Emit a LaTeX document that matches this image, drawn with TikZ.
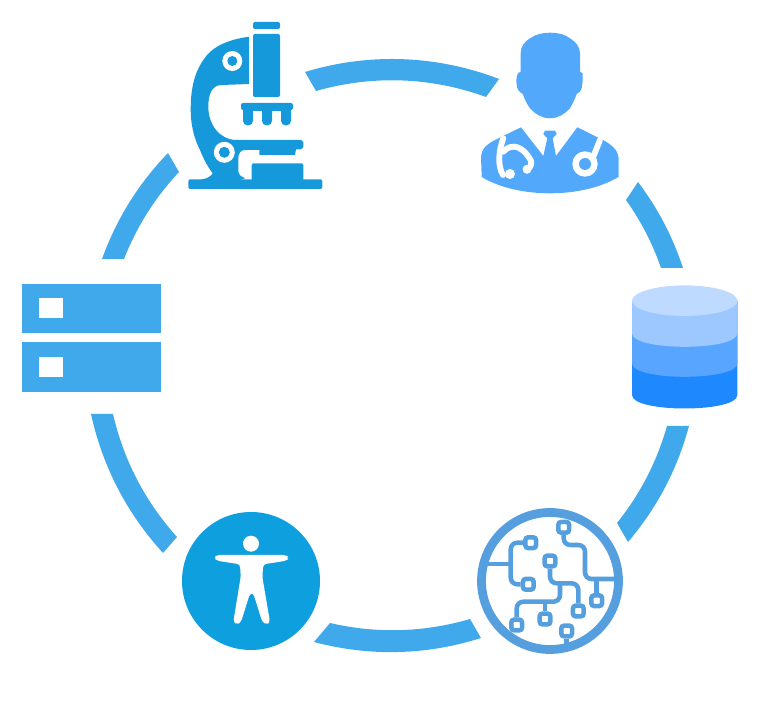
\documentclass[tikz,border=0pt]{standalone}
\usepackage{tikz}
\definecolor{ringblue}{HTML}{40A9EC}
\definecolor{scopeblue}{HTML}{1599DB}
\definecolor{doctorblue}{HTML}{52A9FB}
\definecolor{chipblue}{HTML}{559FDE}
\definecolor{bodyblue}{HTML}{0E9FDF}
\definecolor{layerd}{HTML}{1E88FF}
\definecolor{layerc}{HTML}{57A5FF}
\definecolor{layerb}{HTML}{9CC8FF}
\definecolor{layera}{HTML}{BFDAFF}
\tikzset{
  ringpart/.style={fill=ringblue,looseness=.88},
  scopepart/.style={fill=scopeblue,rounded corners=1.5pt},
  trace/.style={draw=chipblue,line width=3.4pt,rounded corners=5pt},
  pad/.style={draw=chipblue,fill=white,line width=3.4pt,rectangle,rounded corners=2pt,minimum size=8pt,inner sep=0pt},
  tube/.style={draw=white,line width=4.4pt,line cap=round}
}
\begin{document}
\begin{tikzpicture}[x=.75pt,y=-.75pt]
  \useasboundingbox (0,0) rectangle (758,720);

  % ring
  \fill[ringpart] (305,72) to[bend left=19] (499,79) -- (486,97) to[bend right=18] (316,91) -- cycle;
  \fill[ringpart] (638,182) to[bend left=9.3] (683,268) -- (661,268) to[bend right=8] (626,200) -- cycle;
  \fill[ringpart] (689,426) to[bend left=12.6] (628,542) -- (617,523) to[bend right=11.3] (667,426) -- cycle;
  \fill[ringpart] (481,638) to[bend left=16.2] (314,642) -- (330,623) to[bend right=14.6] (470,619) -- cycle;
  \fill[ringpart] (163,553) to[bend left=15] (91,414) -- (113,414) to[bend right=14.4] (177,537) -- cycle;
  \fill[ringpart] (102,259) to[bend left=12] (168,153) -- (179,172) to[bend right=10.7] (124,259) -- cycle;

  % microscope
  \fill[scopepart] (253,22) rectangle (280,29);
  \fill[scopepart] (253,34) rectangle (280,97);
  \fill[scopepart] (241,103) rectangle (293,110);
  \foreach \xlens in {243,262,281}
    \fill[scopeblue,rounded corners=3.5pt] (\xlens,106) rectangle (\xlens+10,125.5);
  \fill[scopeblue] (243,108) rectangle (291,111.5);
  \fill[scopeblue] (249,36.7) .. controls (225,40) and (211,48) .. (203.3,60)
    .. controls (193,75) and (190.7,92) .. (190.7,110)
    .. controls (190.7,125) and (194,138) .. (200,150)
    .. controls (204,160) and (208,167) .. (212.7,173.3)
    .. controls (211,177) and (205,179) .. (200,180) -- (240,180) -- (245,178.3)
    .. controls (240,176) and (238.3,174) .. (238.3,171.7)
    -- (238.3,158) .. controls (238.3,153) and (241,150) .. (245,150)
    -- (259.3,150) -- (259.3,155) -- (295,155) -- (296,149.3)
    -- (301,149.3) -- (303.3,147) -- (303.3,142) -- (301,140) -- (236.7,140)
    .. controls (220,140) and (208.3,125) .. (208.3,106.7)
    .. controls (208.3,94) and (212,85) .. (222,85)
    -- (249,84) -- cycle;
  \fill[scopepart] (188.3,179.3) rectangle (322.3,189);
  \fill[scopepart] (251.7,163.3) rectangle (303.3,181);
  \fill[white] (232.3,61) circle [radius=10];
  \fill[scopeblue] (232.3,61) circle [radius=5];
  \fill[white] (224.3,152.3) circle [radius=10.5];
  \fill[scopeblue] (224.3,152.3) circle [radius=5.5];

  % doctor
  \fill[doctorblue] (520.7,71.7) -- (520.7,53) .. controls (520.7,46) and (525,41.5) .. (530,38.3)
    .. controls (536,34) and (543,32.7) .. (550,32.7)
    .. controls (557,32.7) and (565,34) .. (570,38.3)
    .. controls (576,42) and (580,47) .. (580,53.3) -- (580,71.7)
    .. controls (583,72) and (583,74) .. (582.7,76.7)
    .. controls (583,82) and (582,85) .. (581.7,88.3)
    .. controls (581,91) and (579,93) .. (576.7,94)
    .. controls (574,101) and (572,105) .. (570,108.3)
    .. controls (565,114) and (558,118.3) .. (550,118.3)
    .. controls (542,118.3) and (535,114) .. (530,108.3)
    .. controls (527,104) and (525,100) .. (522.7,94)
    .. controls (519,92) and (517,89) .. (516.7,85)
    .. controls (516,81) and (516.5,77) .. (517.3,75)
    .. controls (518,73) and (519,72) .. (520.7,71.7) -- cycle;
  \fill[doctorblue] (481,157) .. controls (482,147) and (488,144) .. (495,140)
    -- (521,127.3) -- (543.3,156) -- (547.3,138.3) -- (543.3,134) -- (545,130.7) -- (555,130.7)
    -- (556.7,134) -- (552.7,138.3) -- (556,156) -- (577.3,127.3) -- (603,140)
    .. controls (612,145) and (618,150) .. (618.5,158)
    -- (618.5,177) .. controls (600,188) and (575,193.3) .. (550,193.3)
    .. controls (525,193.3) and (500,188) .. (481.7,177) -- cycle;
  \draw[tube] (503.3,138.3) .. controls (499,150) and (497,165) .. (503,175);
  \draw[tube] (503.3,151.7) .. controls (512,142) and (524,147) .. (531,161) .. controls (532,165) and (530,168) .. (527,169.3);
  \fill[white] (510,174) circle [radius=5];
  \fill[white] (527,169.3) circle [radius=4.5];
  \draw[tube] (600,140) -- (593.3,156.7);
  \fill[white] (585,164) circle [radius=12.7];
  \fill[doctorblue] (585,164) circle [radius=6];

  % database
  \foreach \yside/\layer in {395/layerd,363.3/layerc,333.3/layerb}
    \fill[\layer] (632,300.7) -- (632,\yside) .. controls (632,\yside+18) and (737.4,\yside+18) .. (737.4,\yside) -- (737.4,300.7) -- cycle;
  \fill[layera] (684.7,300.7) ellipse [x radius=52.7,y radius=15.3];

  % chip
  \draw[chipblue,line width=6.6pt] (550,581) circle [radius=68.5];
  \coordinate (ringw) at (486,564);
  \coordinate (ringe) at (615,579);
  \coordinate (ring_s) at (566.7,645);
  \coordinate (trunk) at (510.7,564);
  \coordinate (joine) at (596.7,579);
  \coordinate (joinm) at (560,583.3);
  \coordinate (joinb) at (560,601.7);
  \coordinate (joinp) at (545,601.7);
  \node[pad] (p1) at (563.7,527.3) {};
  \node[pad] (p2) at (530.7,542.7) {};
  \node[pad] (p3) at (550,561) {};
  \node[pad] (p4) at (528.3,584.3) {};
  \node[pad] (p5) at (596.7,600.7) {};
  \node[pad] (p6) at (578.3,611) {};
  \node[pad] (p7) at (545,619) {};
  \node[pad] (p8) at (516.7,625) {};
  \node[pad] (p9) at (566.7,631) {};
  \draw[trace] (ringw) -- (trunk);
  \draw[trace] (p2) -| (510.7,584.3) -- (p4);
  \draw[trace] (p1) |- (585,545) |- (ringe);
  \draw[trace] (joine) -- (p5);
  \draw[trace] (p3) |- (578.3,583.3) -- (p6);
  \draw[trace] (joinm) -- (joinb) -| (p8);
  \draw[trace] (joinp) -- (p7);
  \draw[trace] (p9) -- (ring_s);

  % person
  \fill[bodyblue] (251,581) circle [radius=69];
  \fill[white] (251,543.7) circle [radius=8];
  \fill[white,rounded corners=2.2pt] (214.3,557.7) -- (216.7,555) -- (286,555) -- (288.7,557.7) -- (286.7,560.7)
    -- (263.3,564.3) -- (262.3,576.7) -- (270,622) -- (266.7,624.5) -- (262.3,622)
    -- (253.3,593.3) -- (250,593.3) -- (241,622) -- (237.3,624.5) -- (233.3,622)
    -- (240.7,576.7) -- (240,564.3) -- (216.7,560.7) -- cycle;

  % server
  \foreach \ytop/\ywin in {283.7/298.3,342.3/357.3}{
    \fill[ringblue] (22.3,\ytop) rectangle (160.7,\ytop+49.6);
    \fill[white] (39.3,\ywin) rectangle (63,\ywin+19.7);
  }
\end{tikzpicture}
\end{document}
